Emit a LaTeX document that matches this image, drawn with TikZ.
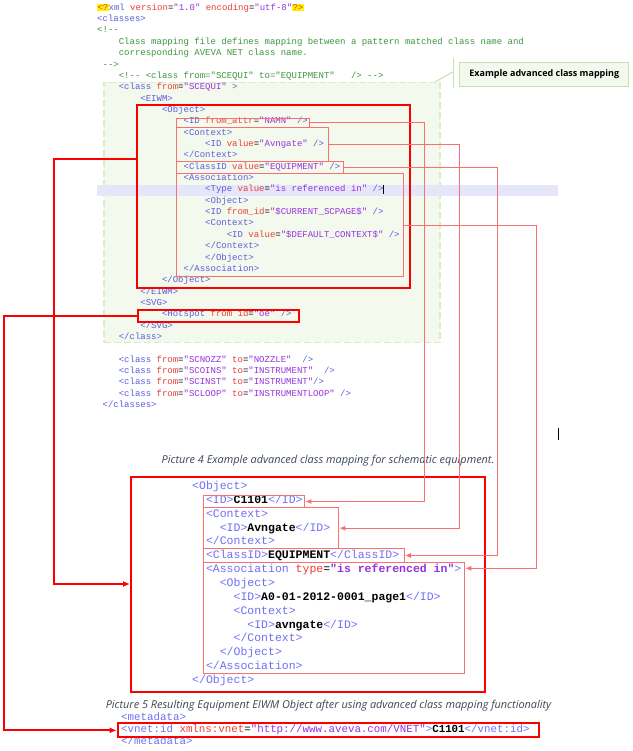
\documentclass[tikz,border=0pt]{standalone}
\usepackage{fontspec}
\setmonofont{Liberation Mono}
\newfontfamily\capfont{Open Sans}
\usepackage{xcolor}
\usepackage{tikz}
\usetikzlibrary{arrows.meta, positioning}

\definecolor{tagc}{RGB}{92,92,222}
\definecolor{tagb}{RGB}{112,112,245}
\definecolor{attc}{RGB}{232,62,52}
\definecolor{valc}{RGB}{150,50,220}
\definecolor{comc}{RGB}{60,150,60}
\definecolor{saumon}{RGB}{250,112,112}
\definecolor{rouge}{RGB}{250,0,0}
\definecolor{vertfond}{RGB}{244,249,238}
\definecolor{vertbord}{RGB}{218,236,200}
\definecolor{vertnote}{RGB}{198,225,178}
\definecolor{lavande}{RGB}{230,230,250}
\definecolor{legc}{RGB}{60,70,85}

\newcommand{\xtag}[1]{\textcolor{tagc}{#1}}
\newcommand{\xtagb}[1]{\textcolor{tagb}{#1}}
\newcommand{\xatt}[1]{\textcolor{attc}{#1}}
\newcommand{\xval}[1]{\textcolor{valc}{#1}}
\newcommand{\xcom}[1]{\textcolor{comc}{#1}}
\newcommand{\xhl}[1]{{\setlength{\fboxsep}{0.3pt}\colorbox{yellow}{\textcolor{attc}{#1}}}}

\tikzset{
  code/.style={anchor=west, inner sep=0pt, font=\ttfamily\fontsize{9}{9}\selectfont, text height=6.4pt, text depth=1.8pt},
  codeb/.style={code, font=\ttfamily\fontsize{11.5}{11.5}\selectfont, text height=8pt, text depth=2.4pt},
  codem/.style={code, font=\ttfamily\fontsize{10.8}{10.8}\selectfont, text height=7.5pt, text depth=2.2pt},
  cadre/.style={draw=saumon, line width=1pt, inner sep=0pt, anchor=north west},
  cadrerouge/.style={cadre, draw=rouge, line width=2pt},
  lien/.style={draw=saumon, line width=1pt, -{Latex[length=6pt,width=5pt]}},
  lienrouge/.style={lien, draw=rouge, line width=2pt, -{Latex[length=7pt,width=6pt]}},
  legende/.style={font=\capfont\itshape\fontsize{10.9}{10.9}\selectfont, text=legc, inner sep=0pt},
  guide/.style={draw=vertnote, line width=1pt}
}

\begin{document}
\begin{tikzpicture}[x=1pt, y=-1pt]
    % Fond
    \fill[white] (0,0) rectangle (632,751);
    \useasboundingbox (0,0) rectangle (632,751);

    % Zone verte et note
    \node[anchor=north west, fill=vertfond, draw=vertbord, line width=1.5pt, dash pattern=on 7pt off 3pt, minimum width=336.3pt, minimum height=260pt, inner sep=0pt] (zone) at (103,81.7) {};
    \fill[lavande] (97,185) rectangle (558,196);
    \node[anchor=north west, fill=vertfond, draw=vertnote, line width=1pt, minimum width=169pt, minimum height=24pt, inner sep=0pt, font=\capfont\bfseries\fontsize{9}{9}\selectfont] (note) at (459.3,61.7) {Example advanced class mapping};
    \coordinate (barH) at (453.3,58.3);
    \coordinate (barB) at (453.3,88.3);
    \coordinate (barM) at (453.3,71.7);
    \draw[guide] (barH) -- (barB);
    \draw[guide] (barM) -- ([xshift=-5.3pt]zone.north east);

    % Code XML source
    \node[code] (t0) at (97,8) {\xhl{<?}\xtag{xml} \xatt{version}=\xval{"1.0"} \xatt{encoding}=\xval{"utf-8"}\xhl{?>}};
    \node[code] (t1) at (97,19.35) {\xtag{<classes>}};
    \node[code] (t2) at (97,30.7) {\xcom{<!--}};
    \node[code] (t3) at (118.6,42.05) {\xcom{Class mapping file defines mapping between a pattern matched class name and}};
    \node[code] (t4) at (118.6,53.4) {\xcom{corresponding AVEVA NET class name.}};
    \node[code] (t5) at (102.4,64.75) {\xcom{-->}};
    \node[code] (t6) at (118.6,76.1) {\xcom{<!-- <class from="SCEQUI" to="EQUIPMENT"~~~/> -->}};
    \node[code] (t7) at (118.6,87.45) {\xtag{<class} \xatt{from}=\xval{"SCEQUI"} \xtag{>}};
    \node[code] (t8) at (140.2,98.8) {\xtag{<EIWM>}};
    \node[code] (t9) at (161.8,110.15) {\xtag{<Object>}};
    \node[code] (t10) at (183.4,121.5) {\xtag{<ID} \xatt{from\_attr}=\xval{"NAMN"} \xtag{/>}};
    \node[code] (t11) at (183.4,132.85) {\xtag{<Context>}};
    \node[code] (t12) at (205,144.2) {\xtag{<ID} \xatt{value}=\xval{"Avngate"} \xtag{/>}};
    \node[code] (t13) at (183.4,155.55) {\xtag{</Context>}};
    \node[code] (t14) at (183.4,166.9) {\xtag{<ClassID} \xatt{value}=\xval{"EQUIPMENT"} \xtag{/>}};
    \node[code] (t15) at (183.4,178.25) {\xtag{<Association>}};
    \node[code] (t16) at (205,189.6) {\xtag{<Type} \xatt{value}=\xval{"is referenced in"} \xtag{/>}};
    \node[code] (t17) at (205,200.95) {\xtag{<Object>}};
    \node[code] (t18) at (205,212.3) {\xtag{<ID} \xatt{from\_id}=\xval{"\$CURRENT\_SCPAGE\$"} \xtag{/>}};
    \node[code] (t19) at (205,223.65) {\xtag{<Context>}};
    \node[code] (t20) at (226.6,235) {\xtag{<ID} \xatt{value}=\xval{"\$DEFAULT\_CONTEXT\$"} \xtag{/>}};
    \node[code] (t21) at (205,246.35) {\xtag{</Context>}};
    \node[code] (t22) at (205,257.7) {\xtag{</Object>}};
    \node[code] (t23) at (183.4,269.05) {\xtag{</Association>}};
    \node[code] (t24) at (161.8,280.4) {\xtag{</Object>}};
    \node[code] (t25) at (140.2,291.75) {\xtag{</EIWM>}};
    \node[code] (t26) at (140.2,303.1) {\xtag{<SVG>}};
    \node[code] (t27) at (161.8,314.45) {\xtag{<Hotspot} \xatt{from id}=\xval{"oe"} \xtag{/>}};
    \node[code] (t28) at (140.2,325.8) {\xtag{</SVG>}};
    \node[code] (t29) at (118.6,337.15) {\xtag{</class>}};
    \node[code] (t31) at (118.6,359.85) {\xtag{<class} \xatt{from}=\xval{"SCNOZZ"} \xatt{to}=\xval{"NOZZLE"}~~\xtag{/>}};
    \node[code] (t32) at (118.6,371.2) {\xtag{<class} \xatt{from}=\xval{"SCOINS"} \xatt{to}=\xval{"INSTRUMENT"}~~\xtag{/>}};
    \node[code] (t33) at (118.6,382.55) {\xtag{<class} \xatt{from}=\xval{"SCINST"} \xatt{to}=\xval{"INSTRUMENT"}\xtag{/>}};
    \node[code] (t34) at (118.6,393.9) {\xtag{<class} \xatt{from}=\xval{"SCLOOP"} \xatt{to}=\xval{"INSTRUMENTLOOP"} \xtag{/>}};
    \node[code] (t35) at (102.4,405.25) {\xtag{</classes>}};
    \draw[black, line width=0.8pt] (t16.north east) -- (t16.south east);
    \draw[black, line width=1pt] (558,428) -- (558,440);

    % Objet EIWM obtenu
    \node[codeb] (b0) at (192,486.7) {\xtagb{<Object>}};
    \node[codeb] (b1) at (205.8,500.55) {\xtagb{<ID>}\textbf{C1101}\xtagb{</ID>}};
    \node[codeb] (b2) at (205.8,514.4) {\xtagb{<Context>}};
    \node[codeb] (b3) at (219.6,528.25) {\xtagb{<ID>}\textbf{Avngate}\xtagb{</ID>}};
    \node[codeb] (b4) at (205.8,542.1) {\xtagb{</Context>}};
    \node[codeb] (b5) at (205.8,555.95) {\xtagb{<ClassID>}\textbf{EQUIPMENT}\xtagb{</ClassID>}};
    \node[codeb] (b6) at (205.8,569.8) {\xtagb{<Association} \xatt{type}=\textbf{\xval{"is referenced in"}}\xtagb{>}};
    \node[codeb] (b7) at (219.6,583.65) {\xtagb{<Object>}};
    \node[codeb] (b8) at (233.4,597.5) {\xtagb{<ID>}\textbf{A0-01-2012-0001\_page1}\xtagb{</ID>}};
    \node[codeb] (b9) at (233.4,611.35) {\xtagb{<Context>}};
    \node[codeb] (b10) at (247.2,625.2) {\xtagb{<ID>}\textbf{avngate}\xtagb{</ID>}};
    \node[codeb] (b11) at (233.4,639.05) {\xtagb{</Context>}};
    \node[codeb] (b12) at (219.6,652.9) {\xtagb{</Object>}};
    \node[codeb] (b13) at (205.8,666.75) {\xtagb{</Association>}};
    \node[codeb] (b14) at (192,680.6) {\xtagb{</Object>}};

    % Metadata
    \node[codem] (m0) at (121,718) {\xtagb{<metadata>}};
    \node[codem] (m1) at (121,729.5) {\xtagb{<vnet:id} \xatt{xmlns:vnet}=\xval{"\underline{http://www.aveva.com/VNET}"}\xtagb{>}\textbf{C1101}\xtagb{</vnet:id>}};
    \node[codem] (m2) at (121,742) {\xtagb{</metadata>}};

    % Légendes
    \node[legende] (leg4) at (328,461) {Picture 4 Example advanced class mapping for schematic equipment.};
    \node[legende] (leg5) at (328.5,706) {Picture 5 Resulting Equipment EIWM Object after using advanced class mapping functionality};

    % Cadres
    \node[cadrerouge, minimum width=273.3pt, minimum height=182.7pt] (objA) at (135.7,104) {};
    \node[cadre, minimum width=133.6pt, minimum height=9pt] (idA) at (175.7,117.7) {};
    \node[cadre, minimum width=152.6pt, minimum height=34.3pt] (ctxA) at (175.7,126.7) {};
    \node[cadre, minimum width=167.6pt, minimum height=11.4pt] (clsA) at (175.7,161.3) {};
    \node[cadre, minimum width=227.6pt, minimum height=102.7pt] (assA) at (175.7,173.3) {};
    \node[cadrerouge, minimum width=161.8pt, minimum height=12.3pt] (hotA) at (136.5,308.7) {};

    \node[cadrerouge, minimum width=354.3pt, minimum height=215.3pt] (objB) at (130,475.7) {};
    \node[cadre, minimum width=101.6pt, minimum height=11.4pt] (idB) at (202.7,495.3) {};
    \node[cadre, minimum width=135.6pt, minimum height=41.3pt] (ctxB) at (202.7,507) {};
    \node[cadre, minimum width=201.3pt, minimum height=13.4pt] (clsB) at (202.7,548.3) {};
    \node[cadre, minimum width=261.6pt, minimum height=111pt] (assB) at (202.7,562.3) {};
    \node[cadrerouge, minimum width=421.1pt, minimum height=14pt] (vnet) at (116.6,722.3) {};

    % Flèches
    \draw[lien] (idA.east) -- ++(114,0) |- (idB.east);
    \draw[lien] (ctxA.east) -- ++(130,0) |- (ctxB.east);
    \draw[lien] (clsA.east) -- ++(153.4,0) |- (clsB.east);
    \draw[lien] (assA.east) -- ++(132.4,0) |- ([yshift=-6pt]assB.north east);
    \draw[lienrouge] ([yshift=-55pt]objA.north west) -- ++(-81.5,0) |- ([yshift=-108.3pt]objB.north west);
    \draw[lienrouge] (hotA.west) -- ++(-132.5,0) |- (vnet.west);
\end{tikzpicture}
\end{document}
